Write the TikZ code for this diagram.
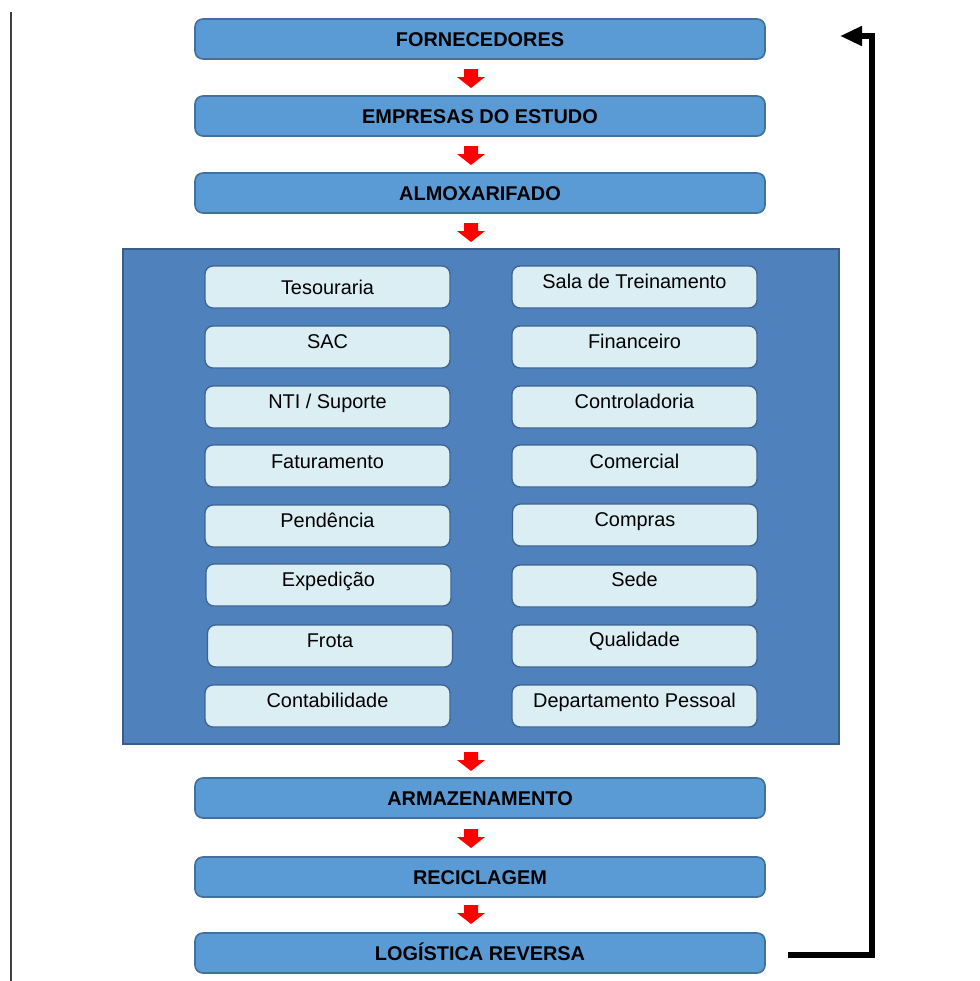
\documentclass[tikz,border=0pt]{standalone}
\usepackage{fontspec}
\setmainfont{Liberation Sans}
\usetikzlibrary{arrows.meta}
\definecolor{mainfill}{HTML}{5B9BD5}
\definecolor{mainline}{HTML}{41719C}
\definecolor{panelfill}{HTML}{4F81BD}
\definecolor{panelline}{HTML}{385D8A}
\definecolor{smallfill}{HTML}{DBEEF4}
\definecolor{smallline}{HTML}{3F6391}
\tikzset{
  mainbox/.style={draw=mainline, line width=0.5mm, fill=mainfill, rounded corners=2.4mm,
    minimum width=171mm, minimum height=12mm, inner sep=0pt, text height=12.2pt, text depth=0pt,
    font=\fontsize{17}{19}\selectfont\bfseries},
  panel/.style={draw=panelline, line width=0.6mm, fill=panelfill, minimum width=214.8mm,
    minimum height=148.5mm, inner sep=0pt},
  sbox/.style={draw=smallline, line width=0.4mm, fill=smallfill, rounded corners=2.4mm,
    minimum width=73.5mm, minimum height=12.6mm, inner sep=0pt},
  stext/.style={inner sep=0pt, text height=12.2pt, text depth=0pt,
    font=\fontsize{17}{20}\selectfont},
  redarrow/.style={fill=red, draw=none},
  backarrow/.style={line width=1.8mm, line join=miter, -{Triangle[length=6.6mm,width=5.6mm]}}
}
\newcommand{\RedArr}[1]{\fill[redarrow] (#1) ++(-7,0) -- ++(14,0) -- ++(0,8) -- ++(7,0) -- ++(-14,11) -- ++(-14,-11) -- ++(7,0) -- cycle;}
\begin{document}
\begin{tikzpicture}[x=0.3mm, y=-0.3mm]
\useasboundingbox (0,0) rectangle (979,981);
% left rule
\draw[line width=0.6mm, color=black!75] (11,12) -- (11,981);
% main boxes
\node[mainbox] (forn) at (480,39) {FORNECEDORES};
\node[mainbox] (emp) at (480,116) {EMPRESAS DO ESTUDO};
\node[mainbox] (almox) at (480,193) {ALMOXARIFADO};
\node[panel] (pan) at (481,496.5) {};
\node[mainbox] (arm) at (480,798) {ARMAZENAMENTO};
\node[mainbox] (rec) at (480,877) {RECICLAGEM};
\node[mainbox] (log) at (480,953) {LOGÍSTICA REVERSA};
% red arrows
\coordinate (a1) at (471,69);
\coordinate (a2) at (471,146);
\coordinate (a3) at (471,223);
\coordinate (a4) at (471,752);
\coordinate (a5) at (471,829);
\coordinate (a6) at (471,905);
\RedArr{a1}\RedArr{a2}\RedArr{a3}\RedArr{a4}\RedArr{a5}\RedArr{a6}
% small boxes left
\node[sbox] (l1) at (327.5,287) {};
\node[sbox] (l2) at (327.5,347) {};
\node[sbox] (l3) at (327.5,407) {};
\node[sbox] (l4) at (327.5,466) {};
\node[sbox] (l5) at (327.5,526) {};
\node[sbox] (l6) at (328.5,585) {};
\node[sbox] (l7) at (330,646) {};
\node[sbox] (l8) at (327.5,706) {};
\node[stext] (tl1) at (327.5,287) {Tesouraria};
\node[stext] (tl2) at (327.5,341) {SAC};
\node[stext] (tl3) at (327.5,401) {NTI / Suporte};
\node[stext] (tl4) at (327.5,461) {Faturamento};
\node[stext] (tl5) at (327.5,520) {Pendência};
\node[stext] (tl6) at (328.5,579) {Expedição};
\node[stext] (tl7) at (330,640) {Frota};
\node[stext] (tl8) at (327.5,700) {Contabilidade};
% small boxes right
\node[sbox] (r1) at (634.5,287) {};
\node[sbox] (r2) at (634.5,347) {};
\node[sbox] (r3) at (634.5,407) {};
\node[sbox] (r4) at (634.5,466) {};
\node[sbox] (r5) at (635,525) {};
\node[sbox] (r6) at (634.5,586) {};
\node[sbox] (r7) at (634.5,646) {};
\node[sbox] (r8) at (634.5,706) {};
\node[stext] (tr1) at (634.5,281) {Sala de Treinamento};
\node[stext] (tr2) at (634.5,341) {Financeiro};
\node[stext] (tr3) at (634.5,401) {Controladoria};
\node[stext] (tr4) at (634.5,461) {Comercial};
\node[stext] (tr5) at (635,519) {Compras};
\node[stext] (tr6) at (634.5,579) {Sede};
\node[stext] (tr7) at (634.5,639) {Qualidade};
\node[stext] (tr8) at (634.5,700) {Departamento Pessoal};
% feedback arrow
\coordinate (bstart) at (788,955);
\coordinate (bcorner1) at (872,955);
\coordinate (bcorner2) at (872,36);
\coordinate (bend) at (840,36);
\draw[backarrow] (bstart) -- (bcorner1) -- (bcorner2) -- (bend);
\end{tikzpicture}
\end{document}
